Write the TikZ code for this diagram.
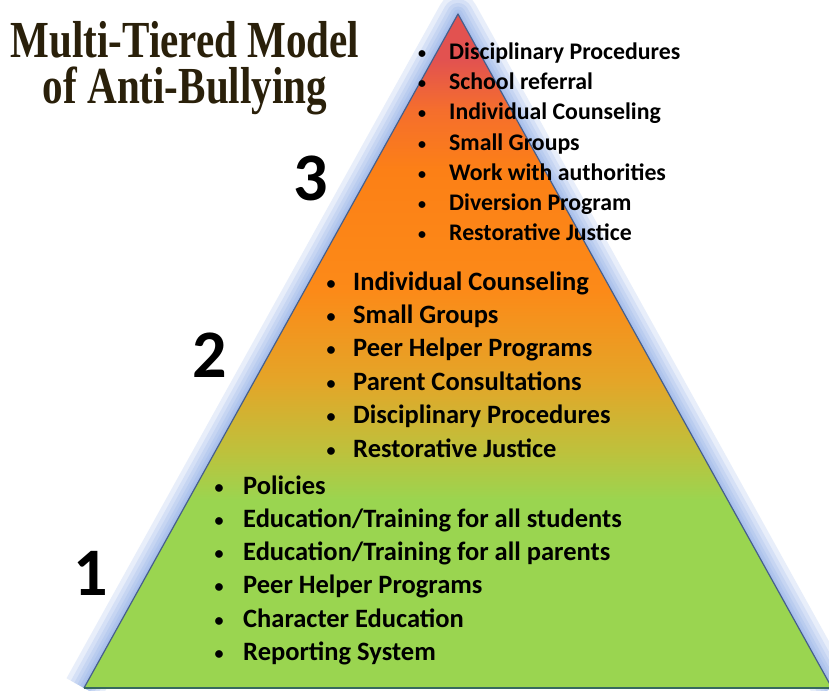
\documentclass[tikz,border=0pt]{standalone}
\usepackage{fontspec}
\setmainfont{Carlito}
\newfontfamily\titlefont{Liberation Serif}
\usetikzlibrary{positioning}

\definecolor{glowblue}{RGB}{130,165,228}
\definecolor{edgeblue}{RGB}{70,95,140}
\definecolor{basegreen}{RGB}{55,105,95}
\definecolor{titlebrown}{RGB}{42,32,10}
\definecolor{t1green}{RGB}{154,213,80}
\definecolor{t12mix}{RGB}{190,193,60}
\definecolor{t2amber}{RGB}{228,165,40}
\definecolor{t3orange}{RGB}{252,138,24}
\definecolor{t3orangeB}{RGB}{252,128,22}
\definecolor{t3redA}{RGB}{245,110,45}
\definecolor{t3red}{RGB}{226,82,80}

% colour stops of the pyramid, bottom (25bp) to apex (75bp)
\pgfdeclareverticalshading{tiershade}{100bp}{color(0bp)=(t1green); color(25bp)=(t1green); color(38.9bp)=(t1green); color(42.6bp)=(t12mix); color(47.8bp)=(t2amber); color(54.5bp)=(t3orange); color(63.4bp)=(t3orangeB); color(67.9bp)=(t3redA); color(71.6bp)=(t3red); color(100bp)=(t3red)}

\begin{document}
\begin{tikzpicture}[x=1pt, y=-1pt,
    glow/.style={draw=glowblue, line join=round, opacity=0.18},
    item/.style={anchor=base west, inner sep=0pt, font=\bfseries\fontsize{#1}{#1}\selectfont},
    dot/.style={anchor=base, inner sep=0pt, font=\bfseries\fontsize{#1}{#1}\selectfont},
    tiernum/.style={inner sep=0pt, font=\bfseries\fontsize{68}{68}\selectfont},
    titletext/.style={anchor=base, inner sep=0pt, align=center, text=titlebrown, font=\titlefont\bfseries\fontsize{52}{45}\selectfont}]
  \useasboundingbox[fill=white] (0,0) rectangle (829,690);

  % corners of the pyramid
  \coordinate (apex) at (458,14);
  \coordinate (baseL) at (84,688);
  \coordinate (baseR) at (832,688);

  % soft blue glow round the slanted sides
  \foreach \w in {40,30,22,15,9,4}
    \draw[glow, line width=\w pt] (baseL) -- (apex) -- (baseR);

  % the pyramid itself
  \shade[shading=tiershade] (apex) -- (baseL) -- (baseR) -- cycle;
  \draw[edgeblue, line width=1.2pt, line join=round] (baseL) -- (apex) -- (baseR);
  \draw[basegreen, line width=2.5pt] (baseL) -- (baseR);

  % title
  \node[titletext] (title) at (185,103) {\scalebox{0.79}[1]{Multi-Tiered Model}\\\scalebox{0.79}[1]{of Anti-Bullying}};

  % tier numbers
  \node[tiernum] (num3) at (311,178) {3};
  \node[tiernum] (num2) at (210,355) {2};
  \node[tiernum] (num1) at (91,573) {1};

  % tier 3 list
  \foreach \txt [count=\i] in {Disciplinary Procedures, School referral, Individual Counseling,
      Small Groups, Work with authorities, Diversion Program, Restorative Justice} {
    \node[dot=16] (t3dot\i) at (422,{59+30*(\i-1)}) {•};
    \node[item=23.8] (t3item\i) at (449,{60+30*(\i-1)}) {\txt};
  }

  % tier 2 list
  \foreach \txt [count=\i] in {Individual Counseling, Small Groups, Peer Helper Programs,
      Parent Consultations, Disciplinary Procedures, Restorative Justice} {
    \node[dot=18] (t2dot\i) at (331,{289+33.4*(\i-1)}) {•};
    \node[item=26.5] (t2item\i) at (353,{290+33.4*(\i-1)}) {\txt};
  }

  % tier 1 list
  \foreach \txt [count=\i] in {Policies, Education/Training for all students,
      Education/Training for all parents, Peer Helper Programs, Character Education,
      Reporting System} {
    \node[dot=18] (t1dot\i) at (219,{493+33.3*(\i-1)}) {•};
    \node[item=26.5] (t1item\i) at (243,{494+33.3*(\i-1)}) {\txt};
  }
\end{tikzpicture}
\end{document}
